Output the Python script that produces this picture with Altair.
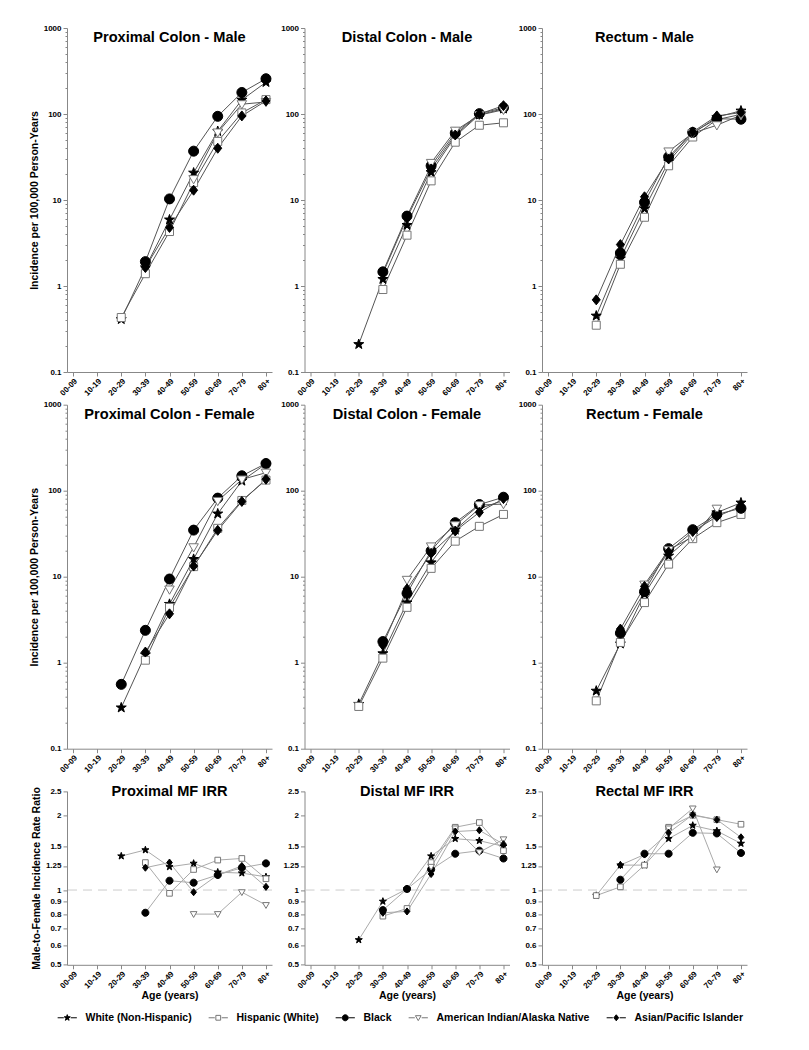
import altair as alt
import pandas as pd

N = None
AGES = ["00-09", "10-19", "20-29", "30-39", "40-49", "50-59", "60-69", "70-79", "80+"]
RACES = ["White (Non-Hispanic)", "Hispanic (White)", "Black",
         "American Indian/Alaska Native", "Asian/Pacific Islander"]

# series order in every panel: White, Hispanic, Black, AI/AN, Asian/PI
PROX_M = [
    [N, N, 0.41, 1.64, 5.9, 20.7, 63, 146, 234],
    [N, N, 0.43, 1.39, 4.3, 15.9, 48, 103, 147],
    [N, N, N, 1.92, 10.3, 37, 94, 178, 257],
    [N, N, N, N, N, 17.5, 61, 130, 138],
    [N, N, N, 1.64, 4.8, 13, 40, 95, 142],
]
DIST_M = [
    [N, N, 0.21, 1.2, 5.1, 21, 55, 98, 115],
    [N, N, N, 0.91, 3.9, 16.7, 47, 74, 79],
    [N, N, N, 1.46, 6.5, 25, 60, 101, 118],
    [N, N, N, N, N, 27, 64, 97, 112],
    [N, N, N, 1.4, 6.2, 23, 57, 100, 125],
]
RECT_M = [
    [N, N, 0.45, 2.08, 7.95, 28, 59, 92, 109],
    [N, N, 0.35, 1.79, 6.3, 25, 54, 86, 99],
    [N, N, N, 2.42, 9.4, 31.8, 61, 88, 87],
    [N, N, N, N, N, 36.7, 60, 74, 97],
    [N, N, 0.69, 3.03, 10.9, 30, 62, 95, 104],
]
PROX_F = [
    [N, N, 0.30, 1.24, 4.8, 16, 54, 130, 205],
    [N, N, N, 1.07, 4.4, 13.1, 36.5, 77, 133],
    [N, N, 0.56, 2.38, 9.4, 34.8, 82, 149, 207],
    [N, N, N, N, 7.1, 22, 76, 135, 162],
    [N, N, N, 1.33, 3.7, 13.3, 34.6, 75, 136],
]
DIST_F = [
    [N, N, 0.33, 1.28, 5.0, 14.6, 35, 62, 77],
    [N, N, 0.31, 1.13, 4.4, 12.5, 25.9, 38.5, 53],
    [N, N, N, 1.76, 6.4, 20, 42.5, 69, 84],
    [N, N, N, N, 9.2, 22.5, 39.7, 68, 70],
    [N, N, N, 1.6, 7.2, 18.7, 34, 56, 81],
]
RECT_F = [
    [N, N, 0.47, 1.66, 6.3, 17.5, 30.6, 55.7, 72.4],
    [N, N, 0.36, 1.72, 5.0, 14, 27.7, 42.5, 53],
    [N, N, N, 2.21, 6.7, 21.2, 35.2, 53, 62.4],
    [N, N, N, N, 8.1, 20.5, 29, 61.8, N],
    [N, N, N, 2.46, 7.7, 19.4, 33.5, 50, 66],
]
PROX_IRR = [
    [N, N, 1.37, 1.45, 1.24, 1.28, 1.18, 1.17, 1.13],
    [N, N, N, 1.29, 0.97, 1.21, 1.32, 1.34, 1.11],
    [N, N, N, 0.81, 1.09, 1.07, 1.15, 1.23, 1.28],
    [N, N, N, N, N, 0.80, 0.80, 0.98, 0.87],
    [N, N, N, 1.23, 1.29, 0.98, 1.15, 1.25, 1.03],
]
DIST_IRR = [
    [N, N, 0.63, 0.90, 1.01, 1.37, 1.61, 1.58, 1.50],
    [N, N, N, 0.785, 0.843, 1.29, 1.79, 1.87, 1.44],
    [N, N, N, 0.83, 1.01, 1.21, 1.40, 1.44, 1.34],
    [N, N, N, N, N, 1.24, 1.77, 1.42, 1.60],
    [N, N, N, 0.81, 0.82, 1.16, 1.72, 1.74, 1.53],
]
RECT_IRR = [
    [N, N, 0.95, 1.26, 1.26, 1.61, 1.82, 1.73, 1.54],
    [N, N, 0.95, 1.03, 1.26, 1.79, 2.0, 1.92, 1.84],
    [N, N, N, 1.10, 1.40, 1.40, 1.70, 1.69, 1.41],
    [N, N, N, N, N, 1.77, 2.13, 1.21, N],
    [N, N, N, 1.26, 1.39, 1.70, 2.01, 1.92, 1.63],
]

PANELS = [
    ("Proximal Colon - Male", PROX_M), ("Distal Colon - Male", DIST_M), ("Rectum - Male", RECT_M),
    ("Proximal Colon - Female", PROX_F), ("Distal Colon - Female", DIST_F), ("Rectum - Female", RECT_F),
    ("Proximal MF IRR", PROX_IRR), ("Distal MF IRR", DIST_IRR), ("Rectal MF IRR", RECT_IRR),
]

INC_TICKS = [0.1, 1, 10, 100, 1000]
INC_MINOR = [m * d for d in [0.1, 1, 10, 100] for m in range(2, 10)]
IRR_TICKS = [0.5, 0.6, 0.7, 0.8, 0.9, 1, 1.25, 1.5, 2, 2.5]

STAR = "M0,-1.05L0.247,-0.34L1,-0.325L0.4,0.13L0.617,0.85L0,0.42L-0.617,0.85L-0.4,0.13L-1,-0.325L-0.247,-0.34Z"
SQUARE = "M-0.8,-0.8H0.8V0.8H-0.8Z"
CIRCLE = "M1,0A1,1 0 1,1 -1,0A1,1 0 1,1 1,0Z"
TRI_DOWN = "M-0.95,-0.7H0.95L0,0.95Z"
DIAMOND = "M0,-1L0.8,0L0,1L-0.8,0Z"
SHAPES = [STAR, SQUARE, CIRCLE, TRI_DOWN, DIAMOND]
LEG_TAIL = "M-3.2,0H-1.15M1.15,0H3.2"
LEG_SHAPES = [s + LEG_TAIL for s in SHAPES]
FILLS = ["black", "white", "black", "white", "black"]
STROKES = ["black", "#777", "black", "#777", "black"]

FONT = "Liberation Sans"
W = 205
H_TOP = 344
H_IRR = 173.6
IRR_GAP = 9.8


def build_df(series):
    rows = []
    for race, vals in zip(RACES, series):
        for age, v in zip(AGES, vals):
            if v is not None:
                rows.append({"age": age, "race": race, "value": v})
    return pd.DataFrame(rows)


legend = alt.Legend(
    title=None, orient="none", legendX=-5, legendY=231, direction="horizontal",
    symbolSize=36, symbolStrokeWidth=1, labelFont=FONT, labelFontSize=10.5,
    labelFontWeight="bold", labelLimit=400, labelOffset=13, columnPadding=14,
)


def make_panel(idx, title, series):
    row, col = divmod(idx, 3)
    irr = row == 2
    df = build_df(series)
    h = H_IRR + IRR_GAP if irr else H_TOP
    x = alt.X("age:N", sort=AGES,
              scale=alt.Scale(type="point", domain=AGES, padding=0.25),
              axis=alt.Axis(labelAngle=-45, title="Age (years)" if irr else None,
                            tickSize=4, labelPadding=1, titlePadding=1))
    if irr:
        yscale = alt.Scale(type="log", domain=[0.5, 2.5], nice=False, range=[h, IRR_GAP])
        ytitle = "Male-to-Female Incidence Rate Ratio" if col == 0 else None
        ticks = IRR_TICKS
    else:
        yscale = alt.Scale(type="log", domain=[0.1, 1000], nice=False)
        ytitle = "Incidence per 100,000 Person-Years" if col == 0 else None
        ticks = INC_TICKS
    major = alt.Axis(values=ticks, format="~g", title=ytitle, orient="left",
                     tickSize=4, labelPadding=2, titlePadding=4)
    line_color = "#aaa" if irr else "#555"
    lines = alt.Chart(df).mark_line(color=line_color, strokeWidth=1).encode(
        x=x, y=alt.Y("value:Q", scale=yscale, axis=major), detail="race:N")
    if irr:
        yp = alt.Y("value:Q", scale=yscale, axis=major)
    else:
        yp = alt.Y("value:Q", scale=yscale,
                   axis=alt.Axis(values=INC_MINOR, labels=False, tickSize=2,
                                 domain=False, title=None, orient="left"))
    pts = alt.Chart(df).mark_point(filled=True, opacity=1, size=50 if irr else 100,
                                   strokeWidth=1).encode(
        x=x, y=yp,
        shape=alt.Shape("race:N", scale=alt.Scale(domain=RACES, range=SHAPES), legend=None),
        fill=alt.Fill("race:N", scale=alt.Scale(domain=RACES, range=FILLS), legend=None),
        stroke=alt.Stroke("race:N", scale=alt.Scale(domain=RACES, range=STROKES), legend=None),
    )
    layers = [lines, pts]
    if irr:
        rule = alt.Chart(alt.Data(values=[{}])).mark_rule(
            color="#ccc", strokeDash=[9, 6], strokeWidth=1).encode(
            y=alt.Y(datum=1, scale=yscale, axis=major))
        layers = [rule] + layers
    legend_here = idx == 6
    if legend_here:
        key = alt.Chart(df).transform_filter("false").mark_point(
            filled=True, opacity=1, strokeWidth=1).encode(
            x=x, y=alt.Y("value:Q", scale=yscale, axis=major),
            shape=alt.Shape("race:N", scale=alt.Scale(domain=RACES, range=LEG_SHAPES), legend=legend),
            fill=alt.Fill("race:N", scale=alt.Scale(domain=RACES, range=FILLS), legend=legend),
            stroke=alt.Stroke("race:N", scale=alt.Scale(domain=RACES, range=STROKES), legend=legend),
        )
        layers = layers + [key]
    off = -28.8 if irr else -33
    ch = alt.layer(*layers).properties(
        width=W, height=h,
        title=alt.TitleParams(title, offset=off, baseline="alphabetic", frame="group"))
    if not irr:
        ch = ch.resolve_axis(y="independent")
    if legend_here:
        ch = ch.resolve_scale(shape="independent", fill="independent", stroke="independent")
    return ch


panels = [make_panel(i, t, s) for i, (t, s) in enumerate(PANELS)]

chart = alt.concat(*panels, columns=3, spacing={"row": 32.7, "column": 32.5}, bounds="flush").properties(
    padding={"left": 21, "top": 16, "right": 5, "bottom": 5}
).configure_axis(
    labelFont=FONT, labelFontWeight="bold", labelFontSize=8, labelColor="black",
    titleFont=FONT, titleFontWeight="bold", titleFontSize=10.5, titleColor="black",
    domainColor="#888", tickColor="#888", grid=False,
).configure_title(
    font=FONT, fontSize=14.6, fontWeight="bold", color="black", anchor="middle",
).configure_view(stroke=None)

chart.save("out.html", embed_options={"renderer": "svg", "actions": False})
